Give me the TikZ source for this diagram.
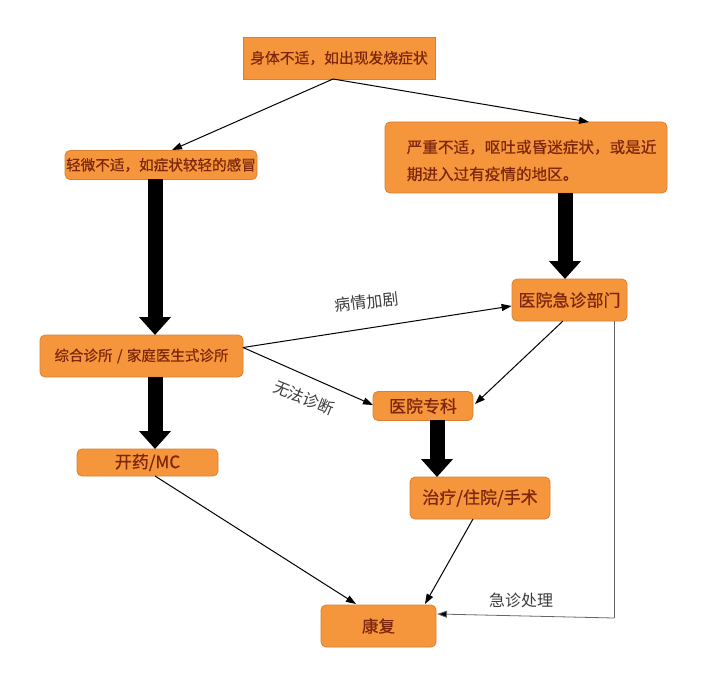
\documentclass[tikz,border=0pt]{standalone}
\usepackage{fontspec}
\setmainfont{Noto Sans CJK SC}
\newfontfamily\boxfont{Noto Sans CJK SC}[FakeBold=0.6]
\usetikzlibrary{arrows.meta}
\definecolor{boxfill}{RGB}{246,150,60}
\definecolor{boxline}{RGB}{220,128,48}
\definecolor{boxtext}{RGB}{125,38,12}
\definecolor{lbltext}{RGB}{60,60,60}
\begin{document}
\begin{tikzpicture}[x=1pt,y=-1pt,
  box/.style={draw=boxline, fill=boxfill, line width=0.8pt, rounded corners=5pt,
    inner sep=0pt, text=boxtext, anchor=center},
  thin arrow/.style={draw=black, line width=1pt, -{Triangle[length=10pt,width=7pt]}},
  thick arrow/.style={draw=black, line width=15pt, -{Triangle[length=18pt,width=31pt]}},
  lbl/.style={text=lbltext, font=\fontsize{16}{18}\selectfont, inner sep=0pt}]
\useasboundingbox (0,0) rectangle (720,687);
\fill[white] (0,0) rectangle (720,687);

% boxes
\node[box, rounded corners=0pt, minimum width=192pt, minimum height=42pt,
  font=\boxfont\fontsize{14.8}{17}\selectfont] (b1) at (339,58) {身体不适，如出现发烧症状};
\node[box, minimum width=192pt, minimum height=29pt,
  font=\boxfont\fontsize{14.6}{17}\selectfont] (b2) at (161,165) {轻微不适，如症状较轻的感冒};
\node[box, minimum width=282pt, minimum height=71pt] (b3) at (526,157.5) {};
\node[text=boxtext, anchor=west, align=left, inner sep=0pt,
  font=\boxfont\fontsize{15.6}{27}\selectfont] (b3t) at ([xshift=22pt,yshift=-3pt]b3.west) {严重不适，呕吐或昏迷症状，或是近\\期进入过有疫情的地区。};
\node[box, minimum width=115pt, minimum height=42pt,
  font=\boxfont\fontsize{17}{19}\selectfont] (b4) at (569.5,300) {医院急诊部门};
\node[box, minimum width=203pt, minimum height=42pt,
  font=\boxfont\fontsize{14.5}{17}\selectfont] (b5) at (141.5,356) {综合诊所\hspace{0.3em}/\hspace{0.3em}家庭医生式诊所};
\node[box, minimum width=100pt, minimum height=29pt,
  font=\boxfont\fontsize{17}{19}\selectfont] (b6) at (423,406) {医院专科};
\node[box, minimum width=141pt, minimum height=27pt,
  font=\boxfont\fontsize{17}{19}\selectfont] (b7) at (147.5,462.5) {开药/MC};
\node[box, minimum width=140pt, minimum height=42pt,
  font=\boxfont\fontsize{17}{19}\selectfont] (b8) at (480,498) {治疗/住院/手术};
\node[box, minimum width=115pt, minimum height=42pt,
  font=\boxfont\fontsize{16.5}{19}\selectfont] (b9) at (378.5,626) {康复};

% helper coordinates
\coordinate (s1) at (333,79);
\coordinate (s5) at (243,347.5);
\coordinate (c1) at (614,618);

% thin arrows
\draw[thin arrow] (s1) -- (172,150);
\draw[thin arrow] (s1) -- (589,122);
\draw[thin arrow] (s5) -- (b4.west |- 0,306);
\node[lbl, rotate=7] (l1) at (367,302) {病情加剧};
\draw[thin arrow] (s5) -- (373,405);
\node[lbl, rotate=-22] (l2) at (304,398) {无法诊断};
\draw[thin arrow] (563,321) -- (475,404);
\draw[thin arrow] (155,476) -- (356,604);
\draw[thin arrow] (473,519) -- (425,604);
\draw[draw=gray!80!black, line width=0.8pt] (614,321) -- (c1);
\draw[draw=gray!80!black, line width=0.8pt, -{Triangle[length=10pt,width=7pt,fill=black]}] (c1) -- (437,614);
\node[lbl] (l3) at (521,600) {急诊处理};

% thick arrows
\draw[thick arrow] (155,179) -- (155,335);
\draw[thick arrow] (565,193) -- (565,279);
\draw[thick arrow] (155,377) -- (155,449);
\draw[thick arrow] (437,420) -- (437,477);
\end{tikzpicture}
\end{document}
